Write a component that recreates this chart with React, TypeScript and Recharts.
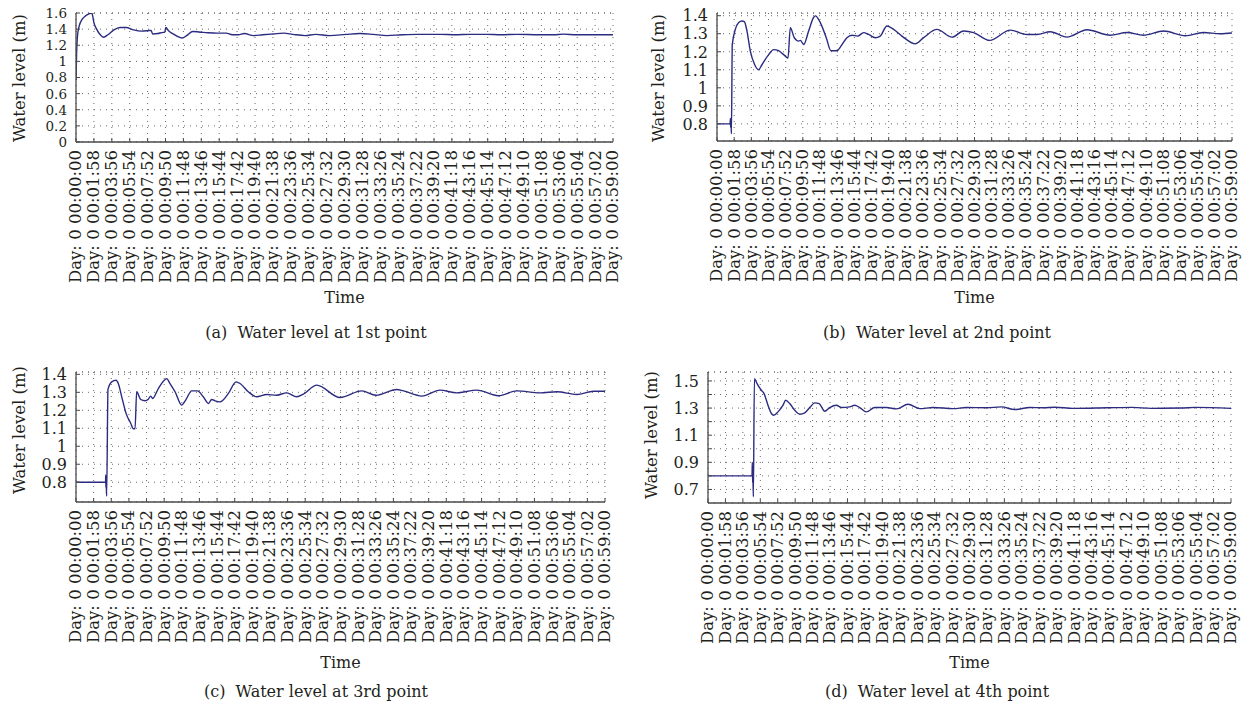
import React from "react";
import { LineChart, Line, XAxis, YAxis, CartesianGrid, ReferenceLine } from "recharts";

const FONT = '"DejaVu Serif", "Liberation Serif", serif';
const INK = "#231f20";
const AXIS = "#4a4a4a";
const GRID = "#6a6a6a";
const LINE = "#2b2b80";

// x axis: one tick every 1 min 58 s, up to 59:00
const TIME_LABELS = [
  "Day: 0 00:00:00", "Day: 0 00:01:58", "Day: 0 00:03:56", "Day: 0 00:05:54",
  "Day: 0 00:07:52", "Day: 0 00:09:50", "Day: 0 00:11:48", "Day: 0 00:13:46",
  "Day: 0 00:15:44", "Day: 0 00:17:42", "Day: 0 00:19:40", "Day: 0 00:21:38",
  "Day: 0 00:23:36", "Day: 0 00:25:34", "Day: 0 00:27:32", "Day: 0 00:29:30",
  "Day: 0 00:31:28", "Day: 0 00:33:26", "Day: 0 00:35:24", "Day: 0 00:37:22",
  "Day: 0 00:39:20", "Day: 0 00:41:18", "Day: 0 00:43:16", "Day: 0 00:45:14",
  "Day: 0 00:47:12", "Day: 0 00:49:10", "Day: 0 00:51:08", "Day: 0 00:53:06",
  "Day: 0 00:55:04", "Day: 0 00:57:02", "Day: 0 00:59:00",
];
const TICK_STEP = 118;
const TIME_TICKS = TIME_LABELS.map((_, i) => i * TICK_STEP);
const TIME_END = 3540;

// (a) 1st point
const A_TIME = [0, 4, 10, 20, 40, 60, 85, 103, 108, 118, 136, 160, 182, 210, 250, 290, 330, 380, 430, 470, 495, 505, 540, 575, 585, 592, 610, 640, 680, 700, 730, 770, 810, 870, 930, 990, 1030, 1070, 1110, 1170, 1230, 1300, 1370, 1430, 1510, 1580, 1674, 1780, 1872, 1960, 2049, 2150, 2248, 2400, 2500, 2600, 2709, 2800, 2907, 3050, 3150, 3211, 3300, 3400, 3540];
const A_LEVEL = [0.77, 1.1, 1.32, 1.43, 1.52, 1.56, 1.59, 1.6, 1.58, 1.48, 1.4, 1.33, 1.3, 1.33, 1.39, 1.42, 1.42, 1.39, 1.375, 1.38, 1.385, 1.34, 1.345, 1.36, 1.36, 1.42, 1.38, 1.34, 1.3, 1.29, 1.32, 1.37, 1.365, 1.355, 1.35, 1.35, 1.33, 1.33, 1.345, 1.32, 1.33, 1.34, 1.35, 1.335, 1.32, 1.335, 1.32, 1.335, 1.345, 1.335, 1.32, 1.33, 1.335, 1.335, 1.33, 1.335, 1.335, 1.33, 1.335, 1.33, 1.33, 1.338, 1.33, 1.33, 1.33];
const A_Y_TICKS = [0, 0.2, 0.4, 0.6, 0.8, 1, 1.2, 1.4, 1.6];

// (b) 2nd point
const B_TIME = [0, 90, 92, 94, 97, 99, 105, 126, 149, 172, 188, 206, 229, 259, 286, 309, 355, 389, 423, 458, 488, 504, 531, 561, 573, 596, 630, 664, 676, 710, 751, 783, 825, 852, 893, 928, 966, 1008, 1042, 1088, 1122, 1168, 1214, 1271, 1363, 1420, 1512, 1615, 1695, 1764, 1874, 2016, 2131, 2199, 2291, 2405, 2543, 2703, 2818, 2932, 3069, 3219, 3344, 3459, 3540];
const B_LEVEL = [0.8, 0.8, 0.83, 0.78, 0.8, 0.745, 1.24, 1.324, 1.362, 1.371, 1.367, 1.315, 1.203, 1.128, 1.1, 1.128, 1.184, 1.212, 1.206, 1.184, 1.165, 1.334, 1.278, 1.259, 1.263, 1.24, 1.315, 1.39, 1.399, 1.362, 1.278, 1.206, 1.206, 1.231, 1.278, 1.292, 1.287, 1.306, 1.296, 1.278, 1.287, 1.343, 1.324, 1.287, 1.244, 1.278, 1.324, 1.281, 1.315, 1.306, 1.263, 1.32, 1.296, 1.296, 1.311, 1.281, 1.322, 1.292, 1.307, 1.292, 1.315, 1.289, 1.307, 1.3, 1.304];
const B_Y_TICKS = [0.8, 0.9, 1, 1.1, 1.2, 1.3, 1.4];

// (c) 3rd point
const C_TIME = [0, 198, 199, 200, 202, 205, 214, 239, 268, 283, 306, 335, 366, 384, 395, 406, 433, 462, 484, 500, 513, 551, 596, 607, 629, 663, 707, 734, 774, 812, 852, 886, 908, 930, 964, 1020, 1071, 1098, 1153, 1209, 1276, 1343, 1410, 1477, 1522, 1611, 1767, 1912, 2008, 2146, 2191, 2314, 2436, 2548, 2682, 2827, 2950, 3106, 3218, 3352, 3463, 3540];
const C_LEVEL = [0.8, 0.8, 0.84, 0.77, 0.8, 0.723, 1.316, 1.358, 1.367, 1.349, 1.275, 1.183, 1.128, 1.097, 1.097, 1.303, 1.26, 1.253, 1.262, 1.279, 1.266, 1.321, 1.371, 1.376, 1.349, 1.303, 1.229, 1.257, 1.308, 1.308, 1.275, 1.238, 1.26, 1.253, 1.247, 1.294, 1.358, 1.349, 1.303, 1.275, 1.288, 1.284, 1.297, 1.275, 1.29, 1.34, 1.271, 1.308, 1.284, 1.316, 1.308, 1.279, 1.312, 1.297, 1.312, 1.281, 1.308, 1.297, 1.303, 1.288, 1.306, 1.306];
const C_Y_TICKS = [0.8, 0.9, 1, 1.1, 1.2, 1.3, 1.4];

// (d) 4th point
const D_TIME = [0, 298, 300, 302, 304, 307, 314, 332, 361, 377, 406, 429, 445, 474, 508, 526, 553, 587, 621, 655, 693, 722, 752, 790, 824, 869, 903, 959, 993, 1027, 1072, 1129, 1208, 1276, 1354, 1433, 1524, 1659, 1749, 1885, 1986, 2077, 2178, 2268, 2348, 2472, 2700, 2870, 3000, 3200, 3300, 3540];
const D_LEVEL = [0.8, 0.8, 0.9, 0.75, 0.8, 0.646, 1.517, 1.48, 1.431, 1.412, 1.321, 1.26, 1.247, 1.272, 1.321, 1.358, 1.333, 1.284, 1.255, 1.265, 1.309, 1.338, 1.333, 1.277, 1.304, 1.321, 1.304, 1.309, 1.321, 1.304, 1.272, 1.304, 1.304, 1.294, 1.328, 1.296, 1.304, 1.296, 1.304, 1.302, 1.309, 1.289, 1.304, 1.302, 1.306, 1.298, 1.302, 1.305, 1.298, 1.3, 1.305, 1.298];
const D_Y_TICKS = [0.7, 0.8, 0.9, 1, 1.1, 1.2, 1.3, 1.4, 1.5];
const D_Y_LABELS = [0.7, 0.9, 1.1, 1.3, 1.5];

const TimeTick = (props: any) => {
  const { x, y, payload } = props;
  const label = TIME_LABELS[Math.round(payload.value / TICK_STEP)];
  return (
    <g transform={`translate(${x},${y})`}>
      <line x1={0} y1={0} x2={0} y2={-4} stroke={AXIS} />
      <text
        transform="rotate(-90)"
        x={-8}
        y={0}
        dy="0.33em"
        textAnchor="end"
        fontFamily={FONT}
        fontSize={16.5}
        fill={INK}
      >
        {label}
      </text>
    </g>
  );
};

const LevelTick = (props: any) => {
  const { x, y, payload, labels, size } = props;
  const v = payload.value;
  const show = !labels || labels.some((l: number) => Math.abs(l - v) < 1e-6);
  return (
    <g transform={`translate(${x},${y})`}>
      <line x1={0} y1={0} x2={4} y2={0} stroke={AXIS} />
      {show && (
        <text x={-9} y={0} dy="0.36em" textAnchor="end" fontFamily={FONT} fontSize={size} fill={INK}>
          {String(Number(v.toFixed(1)))}
        </text>
      )}
    </g>
  );
};

type PanelProps = {
  left: number;
  top: number;
  width: number;
  height: number;
  plot: { left: number; top: number; right: number; bottom: number };
  time: number[];
  level: number[];
  domain: [number, number];
  yTicks: number[];
  yLabels?: number[];
  yFont: number;
};

function LevelPanel(p: PanelProps) {
  const data = p.time.map((t, i) => ({ t, level: p.level[i] }));
  return (
    <div style={{ position: "absolute", left: p.left, top: p.top }}>
      <LineChart
        width={p.width}
        height={p.height}
        data={data}
        margin={{ top: p.plot.top, right: p.width - p.plot.right, left: 0, bottom: 0 }}
      >
        <CartesianGrid stroke={GRID} strokeDasharray="1 5" />
        <ReferenceLine y={p.domain[1]} stroke={GRID} strokeDasharray="1 5" />
        <XAxis
          dataKey="t"
          type="number"
          domain={[0, TIME_END]}
          ticks={TIME_TICKS}
          interval={0}
          height={p.height - p.plot.bottom}
          tickSize={0}
          tickMargin={0}
          tickLine={false}
          axisLine={{ stroke: AXIS, strokeWidth: 1.3 }}
          tick={(props: any) => <TimeTick {...props} />}
          allowDataOverflow
        />
        <YAxis
          type="number"
          domain={p.domain}
          ticks={p.yTicks}
          interval={0}
          width={p.plot.left}
          tickSize={0}
          tickMargin={0}
          tickLine={false}
          axisLine={{ stroke: AXIS, strokeWidth: 1.3 }}
          tick={(props: any) => <LevelTick {...props} labels={p.yLabels} size={p.yFont} />}
          allowDataOverflow
        />
        <Line
          type="monotone"
          dataKey="level"
          stroke={LINE}
          strokeWidth={1.4}
          dot={false}
          isAnimationActive={false}
        />
      </LineChart>
    </div>
  );
}

const Txt = ({ x, y, children }: { x: number; y: number; children: React.ReactNode }) => (
  <div
    style={{
      position: "absolute",
      left: x,
      top: y,
      transform: "translate(-50%, -50%)",
      whiteSpace: "pre",
      lineHeight: 1,
      fontSize: 16,
      fontFamily: FONT,
      color: INK,
    }}
  >
    {children}
  </div>
);

// vertical axis title, reads bottom to top
const VTxt = ({ x, y, children }: { x: number; y: number; children: React.ReactNode }) => (
  <div
    style={{
      position: "absolute",
      left: x,
      top: y,
      transform: "translate(-50%, -50%) rotate(180deg)",
      writingMode: "vertical-rl",
      whiteSpace: "pre",
      lineHeight: 1,
      fontSize: 16.5,
      fontFamily: FONT,
      color: INK,
    }}
  >
    {children}
  </div>
);

export default function App() {
  return (
    <div
      style={{
        position: "absolute",
        left: 0,
        top: 0,
        width: 1247,
        height: 714,
        background: "#fff",
        overflow: "hidden",
      }}
    >
      <LevelPanel
        left={0}
        top={0}
        width={632}
        height={350}
        plot={{ left: 76, top: 13, right: 613, bottom: 142 }}
        time={A_TIME}
        level={A_LEVEL}
        domain={[0, 1.6]}
        yTicks={A_Y_TICKS}
        yFont={13.5}
      />
      <LevelPanel
        left={620}
        top={0}
        width={627}
        height={350}
        plot={{ left: 97, top: 13, right: 612, bottom: 141 }}
        time={B_TIME}
        level={B_LEVEL}
        domain={[0.705, 1.415]}
        yTicks={B_Y_TICKS}
        yFont={16}
      />
      <LevelPanel
        left={0}
        top={357}
        width={632}
        height={357}
        plot={{ left: 76, top: 15, right: 605, bottom: 145 }}
        time={C_TIME}
        level={C_LEVEL}
        domain={[0.69, 1.413]}
        yTicks={C_Y_TICKS}
        yFont={16}
      />
      <LevelPanel
        left={620}
        top={357}
        width={627}
        height={357}
        plot={{ left: 88, top: 15, right: 611, bottom: 146 }}
        time={D_TIME}
        level={D_LEVEL}
        domain={[0.6, 1.566]}
        yTicks={D_Y_TICKS}
        yLabels={D_Y_LABELS}
        yFont={16}
      />

      <VTxt x={20} y={77.5}>Water level (m)</VTxt>
      <VTxt x={659} y={78}>Water level (m)</VTxt>
      <VTxt x={20} y={430}>Water level (m)</VTxt>
      <VTxt x={652} y={435}>Water level (m)</VTxt>

      <Txt x={344.5} y={298}>Time</Txt>
      <Txt x={974.5} y={298}>Time</Txt>
      <Txt x={340.5} y={663}>Time</Txt>
      <Txt x={969.5} y={663}>Time</Txt>

      <Txt x={316} y={333}>{"(a)  Water level at 1st point"}</Txt>
      <Txt x={937} y={333}>{"(b)  Water level at 2nd point"}</Txt>
      <Txt x={316} y={692}>{"(c)  Water level at 3rd point"}</Txt>
      <Txt x={937} y={692}>{"(d)  Water level at 4th point"}</Txt>
    </div>
  );
}
